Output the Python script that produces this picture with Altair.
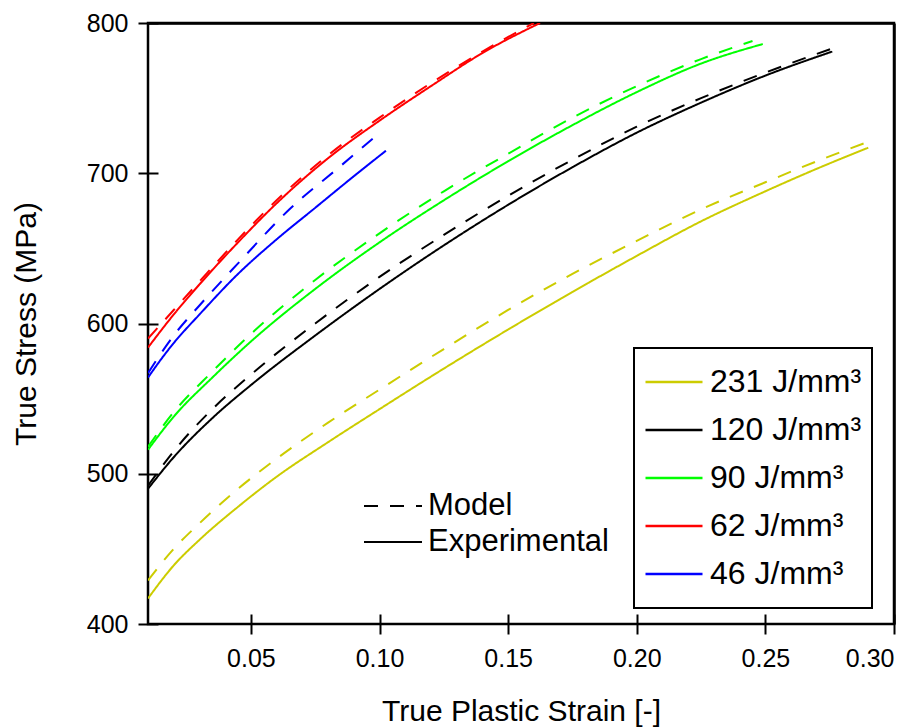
import altair as alt
import pandas as pd

energies = ["231 J/mm³", "120 J/mm³", "90 J/mm³", "62 J/mm³", "46 J/mm³"]
colors = ["#cccc00", "#000000", "#00ff00", "#ff0000", "#0000ff"]
types = ["Model", "Experimental"]

x_ticks = [0.05, 0.10, 0.15, 0.20, 0.25, 0.30]
y_ticks = [400, 500, 600, 700, 800]

# 231 J/mm3
e231_exp_x = [0.010, 0.020, 0.030, 0.045, 0.060, 0.080, 0.100, 0.125, 0.150, 0.175, 0.200, 0.225, 0.250, 0.270, 0.290]
e231_exp_y = [417, 439, 456, 478, 498, 521, 543, 570, 596, 621, 645, 668, 688, 703, 717]
e231_mod_x = [0.010, 0.020, 0.030, 0.045, 0.060, 0.080, 0.100, 0.125, 0.150, 0.175, 0.200, 0.225, 0.250, 0.270, 0.290]
e231_mod_y = [429, 450, 467, 490, 510, 534, 556, 583, 609, 633, 655, 676, 694, 708, 721]

# 120 J/mm3
e120_exp_x = [0.010, 0.020, 0.035, 0.050, 0.075, 0.100, 0.125, 0.150, 0.175, 0.200, 0.225, 0.250, 0.276]
e120_exp_y = [490, 511, 537, 559, 592, 623, 652, 679, 704, 727, 747, 765, 781]
e120_mod_x = [0.010, 0.020, 0.035, 0.050, 0.075, 0.100, 0.125, 0.150, 0.175, 0.200, 0.225, 0.250, 0.276]
e120_mod_y = [492, 515, 543, 566, 600, 631, 659, 685, 709, 731, 750, 767, 783]

# 90 J/mm3
e90_exp_x = [0.010, 0.020, 0.035, 0.050, 0.075, 0.100, 0.125, 0.150, 0.175, 0.200, 0.225, 0.249]
e90_exp_y = [516, 538, 564, 588, 623, 654, 682, 708, 732, 754, 773, 786]
e90_mod_x = [0.010, 0.020, 0.035, 0.050, 0.075, 0.100, 0.125, 0.150, 0.175, 0.200, 0.225, 0.245]
e90_mod_y = [518, 541, 568, 593, 629, 660, 688, 713, 737, 758, 776, 788]

# 62 J/mm3
e62_exp_x = [0.010, 0.020, 0.030, 0.045, 0.060, 0.080, 0.100, 0.120, 0.140, 0.1624]
e62_exp_y = [584, 606, 626, 654, 680, 710, 735, 758, 780, 800]
e62_mod_x = [0.010, 0.020, 0.030, 0.045, 0.060, 0.080, 0.100, 0.120, 0.140, 0.160]
e62_mod_y = [590, 609, 628, 656, 682, 712, 737, 760, 781, 800]

# 46 J/mm3
e46_exp_x = [0.010, 0.015, 0.020, 0.030, 0.045, 0.060, 0.075, 0.090, 0.1025]
e46_exp_y = [564, 576, 587, 606, 633, 656, 677, 698, 715]
e46_mod_x = [0.010, 0.015, 0.020, 0.030, 0.045, 0.065, 0.085, 0.098]
e46_mod_y = [567, 580, 592, 612, 640, 676, 705, 724]

series = [
    (energies[0], "Experimental", e231_exp_x, e231_exp_y),
    (energies[0], "Model", e231_mod_x, e231_mod_y),
    (energies[1], "Experimental", e120_exp_x, e120_exp_y),
    (energies[1], "Model", e120_mod_x, e120_mod_y),
    (energies[2], "Experimental", e90_exp_x, e90_exp_y),
    (energies[2], "Model", e90_mod_x, e90_mod_y),
    (energies[3], "Experimental", e62_exp_x, e62_exp_y),
    (energies[3], "Model", e62_mod_x, e62_mod_y),
    (energies[4], "Experimental", e46_exp_x, e46_exp_y),
    (energies[4], "Model", e46_mod_x, e46_mod_y),
]

rows = []
for en, ty, xs, ys in series:
    for x, y in zip(xs, ys):
        rows.append({"energy": en, "type": ty, "strain": x, "stress": y})
df = pd.DataFrame(rows)

FONT = "Liberation Sans"
x_scale = alt.Scale(domain=[0.01, 0.30], nice=False, zero=False)
y_scale = alt.Scale(domain=[400, 800], nice=False, zero=False)

lines = (
    alt.Chart(df)
    .mark_line(strokeWidth=2, clip=True, interpolate="monotone")
    .encode(
        x=alt.X(
            "strain:Q",
            scale=x_scale,
            axis=alt.Axis(
                title="True Plastic Strain [-]",
                values=x_ticks,
                format=".2f",
                grid=False,
                domain=False,
                offset=-10,
                tickSize=20,
                tickWidth=2,
                tickColor="black",
                labelFontSize=25,
                labelPadding=12,
                labelColor="black",
                labelFont=FONT,
                titleFont=FONT,
                titleFontSize=30,
                titleFontWeight="normal",
                titleColor="black",
                titlePadding=25,
            ),
        ),
        y=alt.Y(
            "stress:Q",
            scale=y_scale,
            axis=alt.Axis(
                title="True Stress (MPa)",
                values=y_ticks,
                grid=False,
                domain=False,
                offset=-10,
                tickSize=20,
                tickWidth=2,
                tickColor="black",
                labelFontSize=25,
                labelPadding=10,
                labelColor="black",
                labelFont=FONT,
                titleFont=FONT,
                titleFontSize=30,
                titleFontWeight="normal",
                titleColor="black",
                titlePadding=45,
            ),
        ),
        color=alt.Color(
            "energy:N",
            scale=alt.Scale(domain=energies, range=colors),
            sort=energies,
            legend=alt.Legend(
                title=None,
                orient="none",
                legendX=486,
                legendY=325,
                padding=10,
                strokeColor="black",
                symbolType="stroke",
                symbolSize=3249,
                symbolStrokeWidth=2.5,
                labelFont=FONT,
                labelFontSize=32,
                labelColor="black",
                labelOffset=6,
                labelLimit=400,
                clipHeight=47.75,
                rowPadding=0,
            ),
        ),
        strokeDash=alt.StrokeDash(
            "type:N",
            scale=alt.Scale(domain=types, range=[[14, 12], [1, 0]]),
            sort=types,
            legend=alt.Legend(
                title=None,
                orient="none",
                legendX=215,
                legendY=465,
                padding=0,
                symbolType="stroke",
                symbolSize=3364,
                symbolStrokeWidth=2,
                symbolStrokeColor="black",
                labelFont=FONT,
                labelFontSize=31,
                labelColor="black",
                labelOffset=5,
                labelLimit=400,
                clipHeight=36,
                rowPadding=0,
            ),
        ),
        order=alt.Order("strain:Q"),
    )
)

frame_axis = dict(labels=False, ticks=False, title=None, grid=False,
                  domain=True, domainColor="black", domainWidth=2.5)

frame = (
    alt.Chart(df)
    .mark_point(opacity=0, size=1)
    .encode(
        x=alt.X("strain:Q", scale=x_scale, axis=alt.Axis(orient="top", **frame_axis)),
        y=alt.Y("stress:Q", scale=y_scale, axis=alt.Axis(orient="right", **frame_axis)),
    )
)

chart = (
    alt.layer(lines, frame)
    .resolve_axis(x="independent", y="independent")
    .properties(
        width=746,
        height=601,
        autosize=alt.AutoSizeParams(type="none"),
        padding={"left": 148, "top": 23, "right": 28, "bottom": 104},
    )
    .configure(background="white")
    .configure_view(stroke="#000000", strokeWidth=2.5, strokeOpacity=1)
    .configure_legend(strokeWidth=2)
)

chart.save("out.html", embed_options={"renderer": "svg", "actions": False})
